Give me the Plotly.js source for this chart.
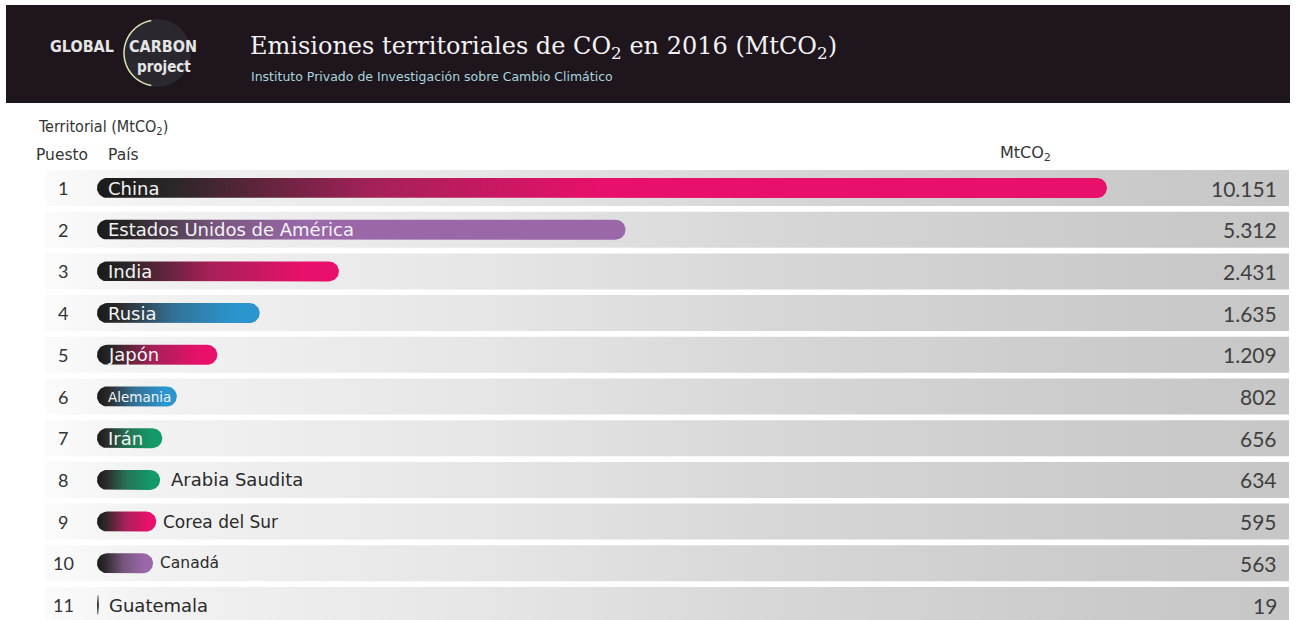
<!DOCTYPE html>
<html>
<head>
<meta charset="utf-8">
<script src="https://cdn.plot.ly/plotly-3.0.1.min.js"></script>
<style>html,body{margin:0;padding:0;background:#fff;}#chart{width:1296px;height:620px;}</style>
</head>
<body>
<div id="chart"></div>
<script>
// ---- data ----
const ranks = [1, 2, 3, 4, 5, 6, 7, 8, 9, 10, 11];
const countries = ['China', 'Estados Unidos de América', 'India', 'Rusia', 'Japón', 'Alemania', 'Irán', 'Arabia Saudita', 'Corea del Sur', 'Canadá', 'Guatemala'];
const values = [10151, 5312, 2431, 1635, 1209, 802, 656, 634, 595, 563, 19];
const barColors = ['#e8106a', '#9a68a9', '#e8106a', '#2b95d0', '#e8106a', '#2b95d0', '#139a68', '#139a68', '#e8106a', '#9a68a9', '#333333'];
const labelInside = [true, true, true, true, true, true, true, false, false, false, false];

// ---- layout constants ----
const W = 1296, H = 620;
const PX0 = 97;                 // pixel where value 0 sits
const PPU = 1010 / 10151;       // pixels per MtCO2
const ROW0 = 188, ROWH = 41.7;  // pixel centre of first row, row pitch
const xr = [(0 - PX0) / PPU, (W - PX0) / PPU];
const yr = [1 + (H - ROW0) / ROWH, 1 - ROW0 / ROWH];
const pxToX = p => (p - PX0) / PPU;
const px = p => p / W;
const py = p => 1 - p / H;
const COND = 'Liberation Sans Narrow, DejaVu Sans Condensed, Roboto Condensed, Roboto';

function fmt(v) { return String(v).replace(/\B(?=(\d{3})+(?!\d))/g, '.'); }

function capsule(value, row, rPx, hPx) {
  const rx = Math.min(rPx / PPU, value / 2);
  const ry = hPx / 2 / ROWH;
  const xs = [], ys = [];
  const n = 24;
  for (let i = 0; i <= n; i++) {
    const a = -Math.PI / 2 + Math.PI * i / n;
    xs.push(value - rx + rx * Math.cos(a)); ys.push(row + ry * Math.sin(a));
  }
  for (let i = 0; i <= n; i++) {
    const a = Math.PI / 2 + Math.PI * i / n;
    xs.push(rx + rx * Math.cos(a)); ys.push(row + ry * Math.sin(a));
  }
  xs.push(xs[0]); ys.push(ys[0]);
  return {xs, ys};
}

function mix(c1, c2, t) {
  const a = [1,3,5].map(i => parseInt(c1.substr(i,2),16));
  const b = [1,3,5].map(i => parseInt(c2.substr(i,2),16));
  return 'rgb(' + a.map((v,i) => Math.round(v + (b[i]-v)*t)).join(',') + ')';
}

const traces = [];
ranks.forEach(r => {
  const x0 = pxToX(45), x1 = pxToX(1289);
  const hy = 18 / ROWH;
  traces.push({
    type: 'scatter', mode: 'lines', hoverinfo: 'skip', showlegend: false,
    x: [x0, x1, x1, x0, x0], y: [r - hy, r - hy, r + hy, r + hy, r - hy],
    line: {width: 0, color: 'rgba(0,0,0,0)'}, fill: 'toself',
    fillgradient: {type: 'horizontal', colorscale: [[0, '#fbfbfb'], [0.08, '#f2f2f2'], [0.35, '#e6e6e6'], [0.6, '#d6d6d6'], [0.85, '#cbcbcb'], [1, '#c6c6c6']]}
  });
});
ranks.forEach((r, i) => {
  const c = capsule(values[i], r, 10, 20);
  const lenPx = values[i] * PPU;
  const f = lenPx > 800 ? 0.5 : (lenPx > 400 ? 0.4 : 0.85);
  const dark = '#1b1b1b';
  traces.push({
    type: 'scatter', mode: 'lines', hoverinfo: 'skip', showlegend: false,
    x: c.xs, y: c.ys, line: {width: 0, color: 'rgba(0,0,0,0)'}, fill: 'toself',
    fillgradient: {type: 'horizontal', colorscale: [[0, dark], [Math.max(0.02, f * 0.15), '#2a2728'], [f * 0.55, mix('#403a3c', barColors[i], 0.6)], [f, barColors[i]], [1, barColors[i]]]}
  });
});

const ann = [];
ann.push({xref: 'paper', yref: 'paper', x: px(82), y: py(46), text: 'GLOBAL', showarrow: false, xanchor: 'center', yanchor: 'middle', font: {family: COND, size: 16, color: '#e6e6e6', weight: 'bold'}});
ann.push({xref: 'paper', yref: 'paper', x: px(163), y: py(46), text: 'CARBON', showarrow: false, xanchor: 'center', yanchor: 'middle', font: {family: COND, size: 16, color: '#e6e6e6', weight: 'bold'}});
ann.push({xref: 'paper', yref: 'paper', x: px(164), y: py(67), text: 'project', showarrow: false, xanchor: 'center', yanchor: 'middle', font: {family: COND, size: 15, color: '#e6e6e6', weight: 'bold'}});
ann.push({xref: 'paper', yref: 'paper', x: px(248), y: py(47), text: 'Emisiones territoriales de CO<sub>2</sub> en 2016 (MtCO<sub>2</sub>)', showarrow: false, xanchor: 'left', yanchor: 'middle', font: {family: 'DejaVu Serif', size: 24, color: '#f2f2f2'}});
ann.push({xref: 'paper', yref: 'paper', x: px(249), y: py(77), text: 'Instituto Privado de Investigación sobre Cambio Climático', showarrow: false, xanchor: 'left', yanchor: 'middle', font: {family: 'DejaVu Sans', size: 12.5, color: '#a9d6df'}});
ann.push({xref: 'paper', yref: 'paper', x: px(36), y: py(128), text: 'Territorial (MtCO<sub>2</sub>)', showarrow: false, xanchor: 'left', yanchor: 'middle', font: {family: COND, size: 16, color: '#333'}});
ann.push({xref: 'paper', yref: 'paper', x: px(34), y: py(155), text: 'Puesto', showarrow: false, xanchor: 'left', yanchor: 'middle', font: {family: 'DejaVu Sans', size: 15.5, color: '#333'}});
ann.push({xref: 'paper', yref: 'paper', x: px(106), y: py(155), text: 'País', showarrow: false, xanchor: 'left', yanchor: 'middle', font: {family: 'DejaVu Sans', size: 15.5, color: '#333'}});
ann.push({xref: 'paper', yref: 'paper', x: px(1025), y: py(153), text: 'MtCO<sub>2</sub>', showarrow: false, xanchor: 'center', yanchor: 'middle', font: {family: 'DejaVu Sans', size: 16, color: '#333'}});

const inSize = {'Alemania': 13.5};
const outSize = [18, 17, 15.5, 18];
ranks.forEach((r, i) => {
  ann.push({xref: 'paper', yref: 'y', x: px(63), y: r, text: String(r), showarrow: false, xanchor: 'center', yanchor: 'middle', font: {family: 'Lato', size: 18, color: '#333'}});
  ann.push({xref: 'paper', yref: 'y', x: px(1279), y: r, text: fmt(values[i]), showarrow: false, xanchor: 'right', yanchor: 'middle', font: {family: 'Lato', size: 21, color: '#404040'}});
  if (labelInside[i]) {
    ann.push({xref: 'x', yref: 'y', x: 0, xshift: 9, y: r, text: countries[i], showarrow: false, xanchor: 'left', yanchor: 'middle', font: {family: 'DejaVu Sans', size: inSize[countries[i]] || 18, color: '#f4f4f4'}});
  } else {
    ann.push({xref: 'x', yref: 'y', x: values[i], xshift: i === 7 ? 9 : (i === 10 ? 8 : 5), y: r, text: countries[i], showarrow: false, xanchor: 'left', yanchor: 'middle', font: {family: 'DejaVu Sans', size: outSize[i - 7], color: '#2a2a2a'}});
  }
});

const shapes = [
  {type: 'rect', xref: 'paper', yref: 'paper', x0: px(6), x1: px(1290), y0: py(5), y1: py(103), fillcolor: '#1f151d', line: {width: 0}, layer: 'below'},
  {type: 'circle', xref: 'paper', yref: 'paper', x0: px(123), x1: px(191), y0: py(19), y1: py(87), fillcolor: '#2a282e', line: {width: 0}, layer: 'below'},
  {type: 'path', xref: 'paper', yref: 'paper', path: (function(){
    const cx = 157, cy = 53, r = 33; let p = '';
    for (let k = 0; k <= 30; k++) { const a = (-100 - 160 * k / 30) * Math.PI / 180; const X = px(cx + r * Math.cos(a)), Y = py(cy + r * Math.sin(a)); p += (k ? ' L' : 'M') + X + ',' + Y; }
    return p; })(), line: {color: '#d9e3b0', width: 1.5}, layer: 'below'}
];

const layout = {
  width: W, height: H, margin: {l: 0, r: 0, t: 0, b: 0},
  paper_bgcolor: '#ffffff', plot_bgcolor: 'rgba(0,0,0,0)',
  xaxis: {range: xr, visible: false, fixedrange: true},
  yaxis: {range: yr, visible: false, fixedrange: true},
  showlegend: false, annotations: ann, shapes: shapes
};
Plotly.newPlot('chart', traces, layout, {staticPlot: true, displayModeBar: false});
</script>
</body>
</html>
